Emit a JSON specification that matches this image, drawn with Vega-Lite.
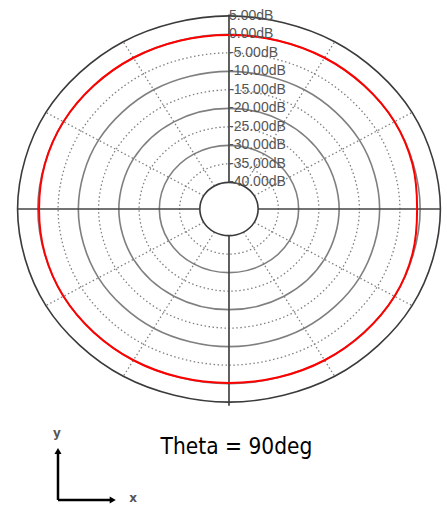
{
  "$schema": "https://vega.github.io/schema/vega-lite/v6.json",
  "width": 447,
  "height": 506,
  "padding": 0,
  "autosize": {"type": "none"},
  "config": {"view": {"stroke": null}},
  "datasets": {
    "rings": [
      {"level": 5, "kind": "edge", "a": 0, "x": 52.2, "y": 0},
      {"level": 5, "kind": "edge", "a": 30, "x": 45.21, "y": 26.1},
      {"level": 5, "kind": "edge", "a": 60, "x": 26.1, "y": 45.21},
      {"level": 5, "kind": "edge", "a": 90, "x": 0, "y": 52.2},
      {"level": 5, "kind": "edge", "a": 120, "x": -26.1, "y": 45.21},
      {"level": 5, "kind": "edge", "a": 150, "x": -45.21, "y": 26.1},
      {"level": 5, "kind": "edge", "a": 180, "x": -52.2, "y": 0},
      {"level": 5, "kind": "edge", "a": 210, "x": -45.21, "y": -26.1},
      {"level": 5, "kind": "edge", "a": 240, "x": -26.1, "y": -45.21},
      {"level": 5, "kind": "edge", "a": 270, "x": 0, "y": -52.2},
      {"level": 5, "kind": "edge", "a": 300, "x": 26.1, "y": -45.21},
      {"level": 5, "kind": "edge", "a": 330, "x": 45.21, "y": -26.1},
      {"level": 0, "kind": "solid", "a": 0, "x": 47.2, "y": 0},
      {"level": 0, "kind": "solid", "a": 30, "x": 40.88, "y": 23.6},
      {"level": 0, "kind": "solid", "a": 60, "x": 23.6, "y": 40.88},
      {"level": 0, "kind": "solid", "a": 90, "x": 0, "y": 47.2},
      {"level": 0, "kind": "solid", "a": 120, "x": -23.6, "y": 40.88},
      {"level": 0, "kind": "solid", "a": 150, "x": -40.88, "y": 23.6},
      {"level": 0, "kind": "solid", "a": 180, "x": -47.2, "y": 0},
      {"level": 0, "kind": "solid", "a": 210, "x": -40.88, "y": -23.6},
      {"level": 0, "kind": "solid", "a": 240, "x": -23.6, "y": -40.88},
      {"level": 0, "kind": "solid", "a": 270, "x": 0, "y": -47.2},
      {"level": 0, "kind": "solid", "a": 300, "x": 23.6, "y": -40.88},
      {"level": 0, "kind": "solid", "a": 330, "x": 40.88, "y": -23.6},
      {"level": -5, "kind": "dotted", "a": 0, "x": 42.2, "y": 0},
      {"level": -5, "kind": "dotted", "a": 30, "x": 36.55, "y": 21.1},
      {"level": -5, "kind": "dotted", "a": 60, "x": 21.1, "y": 36.55},
      {"level": -5, "kind": "dotted", "a": 90, "x": 0, "y": 42.2},
      {"level": -5, "kind": "dotted", "a": 120, "x": -21.1, "y": 36.55},
      {"level": -5, "kind": "dotted", "a": 150, "x": -36.55, "y": 21.1},
      {"level": -5, "kind": "dotted", "a": 180, "x": -42.2, "y": 0},
      {"level": -5, "kind": "dotted", "a": 210, "x": -36.55, "y": -21.1},
      {"level": -5, "kind": "dotted", "a": 240, "x": -21.1, "y": -36.55},
      {"level": -5, "kind": "dotted", "a": 270, "x": 0, "y": -42.2},
      {"level": -5, "kind": "dotted", "a": 300, "x": 21.1, "y": -36.55},
      {"level": -5, "kind": "dotted", "a": 330, "x": 36.55, "y": -21.1},
      {"level": -10, "kind": "solid", "a": 0, "x": 37.2, "y": 0},
      {"level": -10, "kind": "solid", "a": 30, "x": 32.22, "y": 18.6},
      {"level": -10, "kind": "solid", "a": 60, "x": 18.6, "y": 32.22},
      {"level": -10, "kind": "solid", "a": 90, "x": 0, "y": 37.2},
      {"level": -10, "kind": "solid", "a": 120, "x": -18.6, "y": 32.22},
      {"level": -10, "kind": "solid", "a": 150, "x": -32.22, "y": 18.6},
      {"level": -10, "kind": "solid", "a": 180, "x": -37.2, "y": 0},
      {"level": -10, "kind": "solid", "a": 210, "x": -32.22, "y": -18.6},
      {"level": -10, "kind": "solid", "a": 240, "x": -18.6, "y": -32.22},
      {"level": -10, "kind": "solid", "a": 270, "x": 0, "y": -37.2},
      {"level": -10, "kind": "solid", "a": 300, "x": 18.6, "y": -32.22},
      {"level": -10, "kind": "solid", "a": 330, "x": 32.22, "y": -18.6},
      {"level": -15, "kind": "dotted", "a": 0, "x": 32.2, "y": 0},
      {"level": -15, "kind": "dotted", "a": 30, "x": 27.89, "y": 16.1},
      {"level": -15, "kind": "dotted", "a": 60, "x": 16.1, "y": 27.89},
      {"level": -15, "kind": "dotted", "a": 90, "x": 0, "y": 32.2},
      {"level": -15, "kind": "dotted", "a": 120, "x": -16.1, "y": 27.89},
      {"level": -15, "kind": "dotted", "a": 150, "x": -27.89, "y": 16.1},
      {"level": -15, "kind": "dotted", "a": 180, "x": -32.2, "y": 0},
      {"level": -15, "kind": "dotted", "a": 210, "x": -27.89, "y": -16.1},
      {"level": -15, "kind": "dotted", "a": 240, "x": -16.1, "y": -27.89},
      {"level": -15, "kind": "dotted", "a": 270, "x": 0, "y": -32.2},
      {"level": -15, "kind": "dotted", "a": 300, "x": 16.1, "y": -27.89},
      {"level": -15, "kind": "dotted", "a": 330, "x": 27.89, "y": -16.1},
      {"level": -20, "kind": "solid", "a": 0, "x": 27.2, "y": 0},
      {"level": -20, "kind": "solid", "a": 30, "x": 23.56, "y": 13.6},
      {"level": -20, "kind": "solid", "a": 60, "x": 13.6, "y": 23.56},
      {"level": -20, "kind": "solid", "a": 90, "x": 0, "y": 27.2},
      {"level": -20, "kind": "solid", "a": 120, "x": -13.6, "y": 23.56},
      {"level": -20, "kind": "solid", "a": 150, "x": -23.56, "y": 13.6},
      {"level": -20, "kind": "solid", "a": 180, "x": -27.2, "y": 0},
      {"level": -20, "kind": "solid", "a": 210, "x": -23.56, "y": -13.6},
      {"level": -20, "kind": "solid", "a": 240, "x": -13.6, "y": -23.56},
      {"level": -20, "kind": "solid", "a": 270, "x": 0, "y": -27.2},
      {"level": -20, "kind": "solid", "a": 300, "x": 13.6, "y": -23.56},
      {"level": -20, "kind": "solid", "a": 330, "x": 23.56, "y": -13.6},
      {"level": -25, "kind": "dotted", "a": 0, "x": 22.2, "y": 0},
      {"level": -25, "kind": "dotted", "a": 30, "x": 19.23, "y": 11.1},
      {"level": -25, "kind": "dotted", "a": 60, "x": 11.1, "y": 19.23},
      {"level": -25, "kind": "dotted", "a": 90, "x": 0, "y": 22.2},
      {"level": -25, "kind": "dotted", "a": 120, "x": -11.1, "y": 19.23},
      {"level": -25, "kind": "dotted", "a": 150, "x": -19.23, "y": 11.1},
      {"level": -25, "kind": "dotted", "a": 180, "x": -22.2, "y": 0},
      {"level": -25, "kind": "dotted", "a": 210, "x": -19.23, "y": -11.1},
      {"level": -25, "kind": "dotted", "a": 240, "x": -11.1, "y": -19.23},
      {"level": -25, "kind": "dotted", "a": 270, "x": 0, "y": -22.2},
      {"level": -25, "kind": "dotted", "a": 300, "x": 11.1, "y": -19.23},
      {"level": -25, "kind": "dotted", "a": 330, "x": 19.23, "y": -11.1},
      {"level": -30, "kind": "solid", "a": 0, "x": 17.2, "y": 0},
      {"level": -30, "kind": "solid", "a": 30, "x": 14.9, "y": 8.6},
      {"level": -30, "kind": "solid", "a": 60, "x": 8.6, "y": 14.9},
      {"level": -30, "kind": "solid", "a": 90, "x": 0, "y": 17.2},
      {"level": -30, "kind": "solid", "a": 120, "x": -8.6, "y": 14.9},
      {"level": -30, "kind": "solid", "a": 150, "x": -14.9, "y": 8.6},
      {"level": -30, "kind": "solid", "a": 180, "x": -17.2, "y": 0},
      {"level": -30, "kind": "solid", "a": 210, "x": -14.9, "y": -8.6},
      {"level": -30, "kind": "solid", "a": 240, "x": -8.6, "y": -14.9},
      {"level": -30, "kind": "solid", "a": 270, "x": 0, "y": -17.2},
      {"level": -30, "kind": "solid", "a": 300, "x": 8.6, "y": -14.9},
      {"level": -30, "kind": "solid", "a": 330, "x": 14.9, "y": -8.6},
      {"level": -35, "kind": "dotted", "a": 0, "x": 12.2, "y": 0},
      {"level": -35, "kind": "dotted", "a": 30, "x": 10.57, "y": 6.1},
      {"level": -35, "kind": "dotted", "a": 60, "x": 6.1, "y": 10.57},
      {"level": -35, "kind": "dotted", "a": 90, "x": 0, "y": 12.2},
      {"level": -35, "kind": "dotted", "a": 120, "x": -6.1, "y": 10.57},
      {"level": -35, "kind": "dotted", "a": 150, "x": -10.57, "y": 6.1},
      {"level": -35, "kind": "dotted", "a": 180, "x": -12.2, "y": 0},
      {"level": -35, "kind": "dotted", "a": 210, "x": -10.57, "y": -6.1},
      {"level": -35, "kind": "dotted", "a": 240, "x": -6.1, "y": -10.57},
      {"level": -35, "kind": "dotted", "a": 270, "x": 0, "y": -12.2},
      {"level": -35, "kind": "dotted", "a": 300, "x": 6.1, "y": -10.57},
      {"level": -35, "kind": "dotted", "a": 330, "x": 10.57, "y": -6.1},
      {"level": -40, "kind": "edge", "a": 0, "x": 7.2, "y": 0},
      {"level": -40, "kind": "edge", "a": 30, "x": 6.24, "y": 3.6},
      {"level": -40, "kind": "edge", "a": 60, "x": 3.6, "y": 6.24},
      {"level": -40, "kind": "edge", "a": 90, "x": 0, "y": 7.2},
      {"level": -40, "kind": "edge", "a": 120, "x": -3.6, "y": 6.24},
      {"level": -40, "kind": "edge", "a": 150, "x": -6.24, "y": 3.6},
      {"level": -40, "kind": "edge", "a": 180, "x": -7.2, "y": 0},
      {"level": -40, "kind": "edge", "a": 210, "x": -6.24, "y": -3.6},
      {"level": -40, "kind": "edge", "a": 240, "x": -3.6, "y": -6.24},
      {"level": -40, "kind": "edge", "a": 270, "x": 0, "y": -7.2},
      {"level": -40, "kind": "edge", "a": 300, "x": 3.6, "y": -6.24},
      {"level": -40, "kind": "edge", "a": 330, "x": 6.24, "y": -3.6}
    ],
    "spokes": [
      {"a": 0, "kind": "axis", "x": 7.2, "y": 0, "x2": 52.2, "y2": 0},
      {"a": 30, "kind": "dotted", "x": 6.24, "y": 3.6, "x2": 45.21, "y2": 26.1},
      {"a": 60, "kind": "dotted", "x": 3.6, "y": 6.24, "x2": 26.1, "y2": 45.21},
      {"a": 90, "kind": "axis", "x": 0, "y": 7.2, "x2": 0, "y2": 52.6},
      {"a": 120, "kind": "dotted", "x": -3.6, "y": 6.24, "x2": -26.1, "y2": 45.21},
      {"a": 150, "kind": "dotted", "x": -6.24, "y": 3.6, "x2": -45.21, "y2": 26.1},
      {"a": 180, "kind": "axis", "x": -7.2, "y": 0, "x2": -52.2, "y2": 0},
      {"a": 210, "kind": "dotted", "x": -6.24, "y": -3.6, "x2": -45.21, "y2": -26.1},
      {"a": 240, "kind": "dotted", "x": -3.6, "y": -6.24, "x2": -26.1, "y2": -45.21},
      {"a": 270, "kind": "axis", "x": 0, "y": -7.2, "x2": 0, "y2": -53.2},
      {"a": 300, "kind": "dotted", "x": 3.6, "y": -6.24, "x2": 26.1, "y2": -45.21},
      {"a": 330, "kind": "dotted", "x": 6.24, "y": -3.6, "x2": 45.21, "y2": -26.1}
    ],
    "pattern": [
      {"phi": 0, "gain": -0.75, "x": 46.45, "y": 0},
      {"phi": 15, "gain": -0.3, "x": 45.3, "y": 12.14},
      {"phi": 30, "gain": 0, "x": 40.88, "y": 23.6},
      {"phi": 45, "gain": 0, "x": 33.38, "y": 33.38},
      {"phi": 60, "gain": 0, "x": 23.6, "y": 40.88},
      {"phi": 75, "gain": -0.1, "x": 12.19, "y": 45.49},
      {"phi": 90, "gain": -0.2, "x": 0, "y": 47.0},
      {"phi": 105, "gain": -0.1, "x": -12.19, "y": 45.49},
      {"phi": 120, "gain": 0, "x": -23.6, "y": 40.88},
      {"phi": 135, "gain": 0, "x": -33.38, "y": 33.38},
      {"phi": 150, "gain": 0, "x": -40.88, "y": 23.6},
      {"phi": 165, "gain": -0.15, "x": -45.45, "y": 12.18},
      {"phi": 180, "gain": -0.3, "x": -46.9, "y": 0},
      {"phi": 195, "gain": -0.15, "x": -45.45, "y": -12.18},
      {"phi": 210, "gain": 0, "x": -40.88, "y": -23.6},
      {"phi": 225, "gain": 0, "x": -33.38, "y": -33.38},
      {"phi": 240, "gain": 0, "x": -23.6, "y": -40.88},
      {"phi": 255, "gain": -0.1, "x": -12.19, "y": -45.49},
      {"phi": 270, "gain": -0.2, "x": 0, "y": -47.0},
      {"phi": 285, "gain": -0.1, "x": 12.19, "y": -45.49},
      {"phi": 300, "gain": 0, "x": 23.6, "y": -40.88},
      {"phi": 315, "gain": 0, "x": 33.38, "y": -33.38},
      {"phi": 330, "gain": 0, "x": 40.88, "y": -23.6},
      {"phi": 345, "gain": -0.3, "x": 45.3, "y": -12.14}
    ],
    "labels": [
      {"text": "5.00dB", "y": 52.2},
      {"text": "0.00dB", "y": 47.2},
      {"text": "-5.00dB", "y": 42.2},
      {"text": "-10.00dB", "y": 37.2},
      {"text": "-15.00dB", "y": 32.2},
      {"text": "-20.00dB", "y": 27.2},
      {"text": "-25.00dB", "y": 22.2},
      {"text": "-30.00dB", "y": 17.2},
      {"text": "-35.00dB", "y": 12.2},
      {"text": "-40.00dB", "y": 7.2}
    ],
    "title": [
      {"text": "Theta = 90deg", "x": 1.85, "y": -66.22}
    ],
    "icon": [
      {"part": "yaxis", "x": -42.22, "y": -78.65, "x2": -42.22, "y2": -65.9},
      {"part": "xaxis", "x": -42.22, "y": -78.65, "x2": -29.2, "y2": -78.65}
    ],
    "heads": [
      {"dir": "up", "x": -42.22, "y": -65.4},
      {"dir": "right", "x": -28.7, "y": -78.65}
    ],
    "iconlabels": [
      {"text": "y", "x": -42.47, "y": -60.54},
      {"text": "x", "x": -23.7, "y": -78.2}
    ]
  },
  "layer": [
    {
      "data": {"name": "rings"},
      "transform": [{"filter": "datum.kind === 'dotted'"}],
      "mark": {"type": "line", "interpolate": "cardinal-closed", "tension": 0, "stroke": "#808080", "strokeWidth": 1.3, "strokeDash": [1.5, 2.5]},
      "encoding": {
        "x": {"field": "x", "type": "quantitative", "scale": {"domain": [-56.54, 53.83], "nice": false, "zero": false}, "axis": null},
        "y": {"field": "y", "type": "quantitative", "scale": {"domain": [-80.27, 56.49], "nice": false, "zero": false}, "axis": null},
        "detail": {"field": "level"},
        "order": {"field": "a", "type": "quantitative"}
      }
    },
    {
      "data": {"name": "spokes"},
      "transform": [{"filter": "datum.kind === 'dotted'"}],
      "mark": {"type": "rule", "stroke": "#808080", "strokeWidth": 1.3, "strokeDash": [1.5, 2.5]},
      "encoding": {
        "x": {"field": "x", "type": "quantitative", "scale": {"domain": [-56.54, 53.83], "nice": false, "zero": false}, "axis": null},
        "y": {"field": "y", "type": "quantitative", "scale": {"domain": [-80.27, 56.49], "nice": false, "zero": false}, "axis": null},
        "x2": {"field": "x2"},
        "y2": {"field": "y2"}
      }
    },
    {
      "data": {"name": "rings"},
      "transform": [{"filter": "datum.kind === 'solid'"}],
      "mark": {"type": "line", "interpolate": "cardinal-closed", "tension": 0, "stroke": "#7f7f7f", "strokeWidth": 1.6},
      "encoding": {
        "x": {"field": "x", "type": "quantitative", "scale": {"domain": [-56.54, 53.83], "nice": false, "zero": false}, "axis": null},
        "y": {"field": "y", "type": "quantitative", "scale": {"domain": [-80.27, 56.49], "nice": false, "zero": false}, "axis": null},
        "detail": {"field": "level"},
        "order": {"field": "a", "type": "quantitative"}
      }
    },
    {
      "data": {"name": "spokes"},
      "transform": [{"filter": "datum.kind === 'axis'"}],
      "mark": {"type": "rule", "stroke": "#444444", "strokeWidth": 1.7},
      "encoding": {
        "x": {"field": "x", "type": "quantitative", "scale": {"domain": [-56.54, 53.83], "nice": false, "zero": false}, "axis": null},
        "y": {"field": "y", "type": "quantitative", "scale": {"domain": [-80.27, 56.49], "nice": false, "zero": false}, "axis": null},
        "x2": {"field": "x2"},
        "y2": {"field": "y2"}
      }
    },
    {
      "data": {"name": "rings"},
      "transform": [{"filter": "datum.kind === 'edge'"}],
      "mark": {"type": "line", "interpolate": "cardinal-closed", "tension": 0, "stroke": "#3a3a3a", "strokeWidth": 1.6},
      "encoding": {
        "x": {"field": "x", "type": "quantitative", "scale": {"domain": [-56.54, 53.83], "nice": false, "zero": false}, "axis": null},
        "y": {"field": "y", "type": "quantitative", "scale": {"domain": [-80.27, 56.49], "nice": false, "zero": false}, "axis": null},
        "detail": {"field": "level"},
        "order": {"field": "a", "type": "quantitative"}
      }
    },
    {
      "data": {"name": "pattern"},
      "mark": {"type": "line", "interpolate": "cardinal-closed", "tension": 0, "stroke": "#ff0000", "strokeWidth": 2},
      "encoding": {
        "x": {"field": "x", "type": "quantitative", "scale": {"domain": [-56.54, 53.83], "nice": false, "zero": false}, "axis": null},
        "y": {"field": "y", "type": "quantitative", "scale": {"domain": [-80.27, 56.49], "nice": false, "zero": false}, "axis": null},
        "order": {"field": "phi", "type": "quantitative"}
      }
    },
    {
      "data": {"name": "labels"},
      "mark": {"type": "text", "align": "left", "baseline": "middle", "font": "Liberation Sans", "fontSize": 14, "fill": "#555555", "dx": 0},
      "encoding": {
        "x": {"datum": 0, "type": "quantitative", "scale": {"domain": [-56.54, 53.83], "nice": false, "zero": false}, "axis": null},
        "y": {"field": "y", "type": "quantitative", "scale": {"domain": [-80.27, 56.49], "nice": false, "zero": false}, "axis": null},
        "text": {"field": "text"}
      }
    },
    {
      "data": {"name": "title"},
      "mark": {"type": "text", "align": "center", "baseline": "alphabetic", "font": "DejaVu Sans Condensed", "fontSize": 22.5, "fill": "#000000"},
      "encoding": {
        "x": {"field": "x", "type": "quantitative", "scale": {"domain": [-56.54, 53.83], "nice": false, "zero": false}, "axis": null},
        "y": {"field": "y", "type": "quantitative", "scale": {"domain": [-80.27, 56.49], "nice": false, "zero": false}, "axis": null},
        "text": {"field": "text"}
      }
    },
    {
      "data": {"name": "icon"},
      "mark": {"type": "rule", "stroke": "#000000", "strokeWidth": 2.5},
      "encoding": {
        "x": {"field": "x", "type": "quantitative", "scale": {"domain": [-56.54, 53.83], "nice": false, "zero": false}, "axis": null},
        "y": {"field": "y", "type": "quantitative", "scale": {"domain": [-80.27, 56.49], "nice": false, "zero": false}, "axis": null},
        "x2": {"field": "x2"},
        "y2": {"field": "y2"}
      }
    },
    {
      "data": {"name": "heads"},
      "mark": {"type": "point", "filled": true, "fill": "#000000", "size": 50, "opacity": 1},
      "encoding": {
        "x": {"field": "x", "type": "quantitative", "scale": {"domain": [-56.54, 53.83], "nice": false, "zero": false}, "axis": null},
        "y": {"field": "y", "type": "quantitative", "scale": {"domain": [-80.27, 56.49], "nice": false, "zero": false}, "axis": null},
        "shape": {"field": "dir", "type": "nominal", "scale": {"domain": ["up", "right"], "range": ["triangle-up", "triangle-right"]}, "legend": null}
      }
    },
    {
      "data": {"name": "iconlabels"},
      "mark": {"type": "text", "align": "center", "baseline": "middle", "font": "DejaVu Sans", "fontWeight": "bold", "fontSize": 12, "fill": "#555555"},
      "encoding": {
        "x": {"field": "x", "type": "quantitative", "scale": {"domain": [-56.54, 53.83], "nice": false, "zero": false}, "axis": null},
        "y": {"field": "y", "type": "quantitative", "scale": {"domain": [-80.27, 56.49], "nice": false, "zero": false}, "axis": null},
        "text": {"field": "text"}
      }
    }
  ]
}
